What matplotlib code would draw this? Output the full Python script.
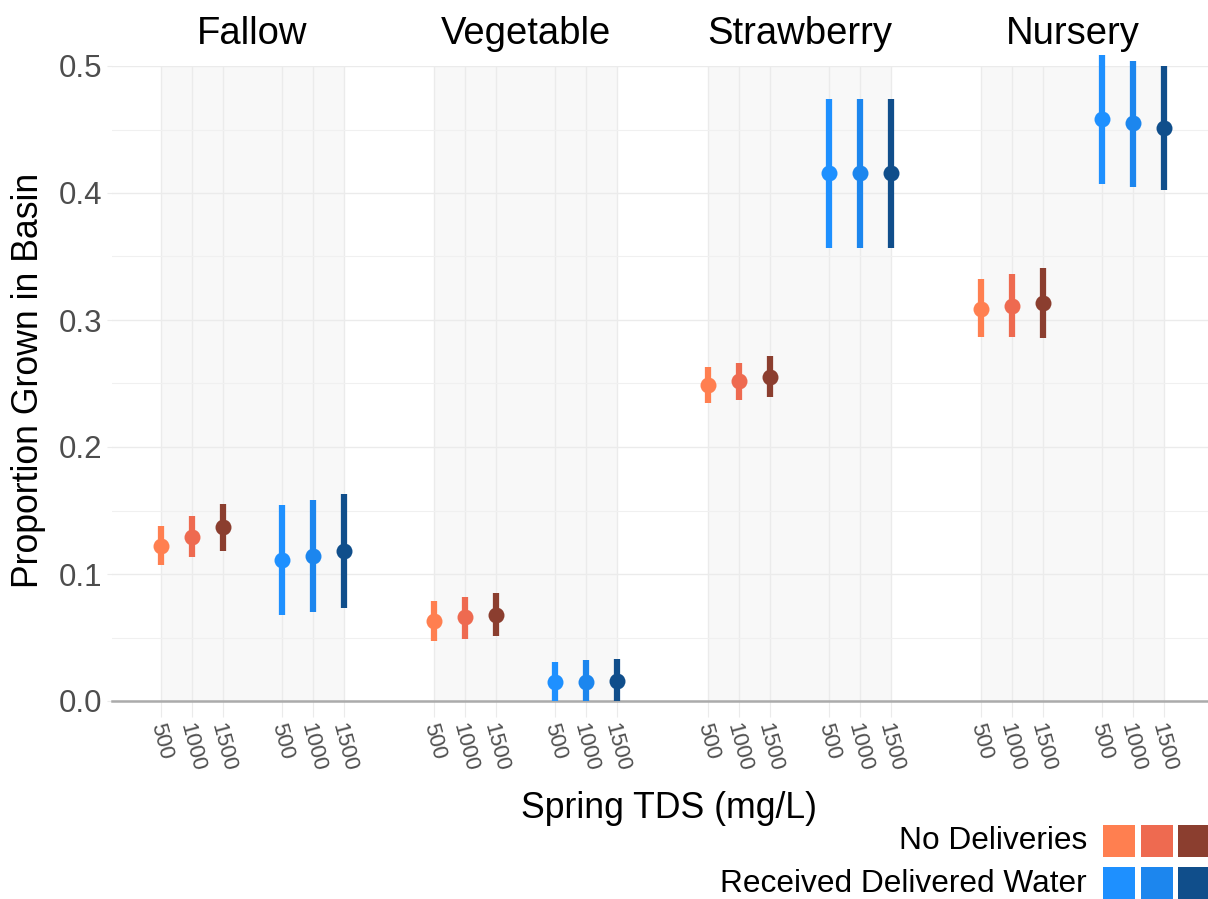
import numpy as np
import matplotlib
matplotlib.use("Agg")
import matplotlib.pyplot as plt
from matplotlib.patches import Rectangle
from matplotlib.ticker import MultipleLocator

plt.rcParams['font.family'] = ['Liberation Sans', 'DejaVu Sans']

# DATOS

crops = ['Fallow', 'Vegetable', 'Strawberry', 'Nursery']
tds = [500, 1000, 1500]

# No Deliveries: media, limite inferior y superior por cultivo y TDS
nodel_mean = [[0.122, 0.129, 0.137], [0.063, 0.066, 0.068], [0.249, 0.252, 0.255], [0.309, 0.311, 0.313]]
nodel_lo = [[0.107, 0.113, 0.118], [0.047, 0.049, 0.051], [0.235, 0.237, 0.239], [0.287, 0.287, 0.286]]
nodel_hi = [[0.138, 0.146, 0.155], [0.079, 0.082, 0.085], [0.263, 0.266, 0.272], [0.332, 0.336, 0.341]]

# Received Delivered Water
recv_mean = [[0.111, 0.114, 0.118], [0.015, 0.015, 0.016], [0.416, 0.416, 0.416], [0.458, 0.455, 0.451]]
recv_lo = [[0.068, 0.070, 0.073], [0.000, 0.000, 0.000], [0.357, 0.357, 0.357], [0.407, 0.405, 0.402]]
recv_hi = [[0.154, 0.158, 0.163], [0.031, 0.032, 0.033], [0.474, 0.474, 0.474], [0.509, 0.504, 0.500]]

series_names = ['No Deliveries', 'Received Delivered Water']
nodel_colors = ['#FF7F50', '#EE6A50', '#8B3E2F']
recv_colors = ['#1E90FF', '#1C86EE', '#104E8B']

#---------------------------------------------------------------------------------------------

# POSICIONES EN EL EJE X

group_step = 8.82   # separacion entre cultivos
sub_step = 3.9      # separacion entre grupos de entrega

fig = plt.figure(figsize=(12.08, 8.99), dpi=100)
ax = fig.add_axes([112 / 1208, 1 - 701 / 899, 1 - 112 / 1208, 635 / 899])

tick_pos = []
tick_lab = []

for g, crop in enumerate(crops):
    x0 = g * group_step
    # fondo gris del panel
    ax.add_patch(Rectangle((x0, 0), 2 * 1 + sub_step, 0.5, facecolor='#F8F8F8',
                           edgecolor='none', zorder=0.1))
    for s, (means, los, his, cols) in enumerate([(nodel_mean, nodel_lo, nodel_hi, nodel_colors),
                                                 (recv_mean, recv_lo, recv_hi, recv_colors)]):
        for i, t in enumerate(tds):
            x = x0 + s * sub_step + i
            tick_pos.append(x)
            tick_lab.append(str(t))
            ax.vlines(x, los[g][i], his[g][i], color=cols[i], lw=4.5, zorder=3,
                      capstyle='butt', clip_on=False)
            ax.plot(x, means[g][i], 'o', color=cols[i], ms=11.5, mec='none', zorder=4,
                    clip_on=False)
    # titulo del cultivo
    ax.text(x0 + (2 + sub_step) / 2, 1.0346, crop, transform=ax.get_xaxis_transform(),
            ha='center', va='baseline', fontsize=27.5, color='black')

#---------------------------------------------------------------------------------------------

# EJES Y REJILLA

ax.set_xlim((112 - 161) / 31, (1208 - 161) / 31)
ax.set_ylim(0, 0.5)

ax.set_xticks(tick_pos)
ax.set_xticklabels(tick_lab, rotation=-75, ha='center', va='top', fontsize=15.8, color='#4D4D4D')
ax.yaxis.set_major_locator(MultipleLocator(0.1))
ax.yaxis.set_minor_locator(MultipleLocator(0.05))
ax.set_yticklabels([f"{v:.1f}" for v in ax.get_yticks()], fontsize=22.5, color='#4D4D4D')

ax.tick_params(axis='x', length=11.5, width=0.8, color='#EBEBEB', pad=3)
ax.tick_params(axis='y', which='major', length=3.6, width=0.8, color='#EBEBEB', pad=3.6)
ax.tick_params(axis='y', which='minor', length=0)

ax.set_axisbelow(True)
ax.grid(True, which='major', axis='both', color='#EBEBEB', lw=1.0, zorder=0.5)
ax.grid(True, which='minor', axis='y', color='#F0F0F0', lw=0.8, zorder=0.5)

for side in ['top', 'right', 'left', 'bottom']:
    ax.spines[side].set_visible(False)
ax.axhline(0, color='#ABABAB', lw=1.8, zorder=2, clip_on=False)

# titulos de ejes
fig.text(668.7 / 1208, 1 - 818 / 899, 'Spring TDS (mg/L)', ha='center', va='baseline', fontsize=25.7)
fig.text(29 / 1208, 1 - 380 / 899, 'Proportion Grown in Basin', ha='center', va='center',
         rotation=90, fontsize=25.7)

#---------------------------------------------------------------------------------------------

# LEYENDA (abajo a la derecha)

legend_rows = [(series_names[0], nodel_colors, 825, 849), (series_names[1], recv_colors, 867, 892)]
for name, cols, top, base in legend_rows:
    fig.text(1087 / 1208, 1 - base / 899, name, ha='right', va='baseline', fontsize=22.8)
    for k, c in enumerate(cols):
        left = 1103 + k * 37.5
        fig.patches.append(Rectangle((left / 1208, 1 - (top + 32) / 899), 32 / 1208, 32 / 899,
                                     facecolor=c, edgecolor='none', transform=fig.transFigure,
                                     figure=fig))

fig.savefig('out.png', dpi=100)
